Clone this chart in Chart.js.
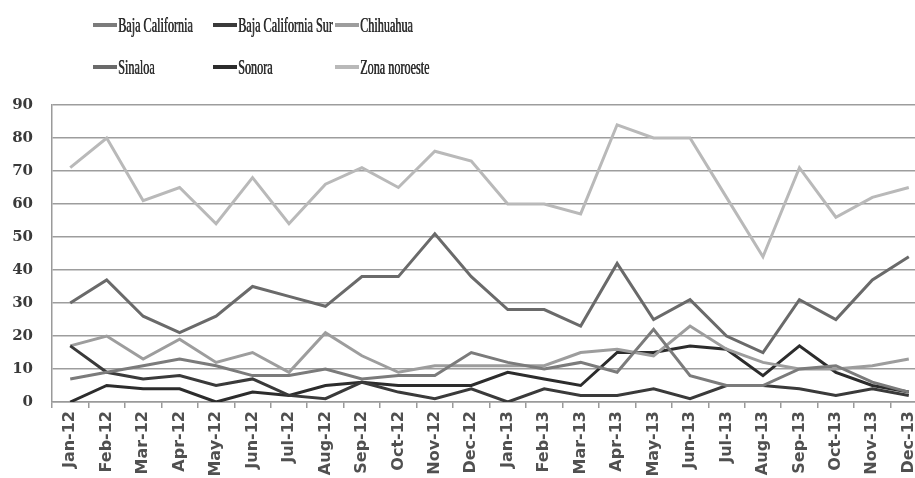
<!DOCTYPE html>
<html>
<head>
<meta charset="utf-8">
<script src="https://cdn.jsdelivr.net/npm/chart.js@4.4.0/dist/chart.umd.min.js"></script>
<style>
html,body{margin:0;padding:0;background:#fff;overflow:hidden;width:915px;height:478px}
#wrap{position:absolute;left:0;top:0;width:931px;height:478px}
</style>
</head>
<body>
<div id="wrap"><canvas id="c" width="931" height="478"></canvas></div>
<script>
const months = ["Jan-12","Feb-12","Mar-12","Apr-12","May-12","Jun-12","Jul-12","Aug-12","Sep-12","Oct-12","Nov-12","Dec-12",
                "Jan-13","Feb-13","Mar-13","Apr-13","May-13","Jun-13","Jul-13","Aug-13","Sep-13","Oct-13","Nov-13","Dec-13"];
const seriesNames = ["Baja California","Baja California Sur","Chihuahua","Sinaloa","Sonora","Zona noroeste"];
const bajaCalifornia    = [7, 9, 11, 13, 11, 8, 8, 10, 7, 8, 8, 15, 12, 10, 12, 9, 22, 8, 5, 5, 10, 11, 6, 3];
const bajaCaliforniaSur = [17, 9, 7, 8, 5, 7, 2, 1, 6, 3, 1, 4, 0, 4, 2, 2, 4, 1, 5, 5, 4, 2, 4, 2];
const chihuahua         = [17, 20, 13, 19, 12, 15, 9, 21, 14, 9, 11, 11, 11, 11, 15, 16, 14, 23, 16, 12, 10, 10, 11, 13];
const sinaloa           = [30, 37, 26, 21, 26, 35, 32, 29, 38, 38, 51, 38, 28, 28, 23, 42, 25, 31, 20, 15, 31, 25, 37, 44];
const sonora            = [0, 5, 4, 4, 0, 3, 2, 5, 6, 5, 5, 5, 9, 7, 5, 15, 15, 17, 16, 8, 17, 9, 5, 3];
const zonaNoroeste      = [71, 80, 61, 65, 54, 68, 54, 66, 71, 65, 76, 73, 60, 60, 57, 84, 80, 80, 62, 44, 71, 56, 62, 65];
const yTicks = [0, 10, 20, 30, 40, 50, 60, 70, 80, 90];

const colors = ["#7b7b7b", "#3a3a3a", "#9d9d9d", "#6a6a6a", "#2c2c2c", "#b9b9b9"];
const values = [bajaCalifornia, bajaCaliforniaSur, chihuahua, sinaloa, sonora, zonaNoroeste];

const datasets = seriesNames.map((n, i) => ({
  label: n,
  data: values[i],
  borderColor: colors[i],
  backgroundColor: colors[i],
  borderWidth: 3,
  pointRadius: 0,
  tension: 0,
  fill: false
}));

const legendPlugin = {
  id: 'gridLegend',
  afterDraw(chart) {
    const ctx = chart.ctx;
    const cols = [93, 213, 335];
    const rows = [25, 67];
    ctx.save();
    seriesNames.forEach((n, i) => {
      const x = cols[i % 3], y = rows[Math.floor(i / 3)];
      ctx.strokeStyle = colors[i];
      ctx.lineWidth = 4;
      ctx.beginPath();
      ctx.moveTo(x, y);
      ctx.lineTo(x + 24, y);
      ctx.stroke();
      ctx.save();
      ctx.translate(x + 25, y);
      ctx.scale(0.58, 1);
      ctx.fillStyle = '#2e2e2e';
      ctx.font = '21px "Liberation Serif"';
      ctx.textBaseline = 'middle';
      ctx.textAlign = 'left';
      ctx.fillText(n, 0, 1);
      ctx.fillText(n, 0.7, 1);
      ctx.restore();
    });
    ctx.restore();
  }
};

new Chart(document.getElementById('c'), {
  type: 'line',
  data: { labels: months, datasets },
  plugins: [legendPlugin],
  options: {
    responsive: false,
    animation: false,
    layout: { padding: { top: 105, right: 0, left: 0, bottom: 0 } },
    plugins: { legend: { display: false }, tooltip: { enabled: false }, title: { display: false } },
    scales: {
      x: {
        type: 'category',
        offset: true,
        grid: { display: true, drawOnChartArea: false, drawTicks: true, tickLength: 6, offset: true, color: '#9a9a9a', lineWidth: 1.5 },
        border: { display: true, color: '#9a9a9a', width: 1.5 },
        ticks: {
          autoSkip: false, minRotation: 90, maxRotation: 90, padding: 3,
          color: '#505050', font: { family: '"DejaVu Sans"', size: 16, weight: 'bold' }
        },
        afterFit(scale) { scale.height = 76; }
      },
      y: {
        min: 0, max: 90,
        afterBuildTicks(scale) { scale.ticks = yTicks.map(v => ({ value: v })); },
        grid: { color: '#9d9d9d', lineWidth: 1.5, drawTicks: false },
        border: { display: true, color: '#9a9a9a', width: 1.5 },
        ticks: {
          padding: 19, color: '#3a3a3a',
          font: { family: '"DejaVu Serif"', size: 15, weight: 'bold' }
        },
        afterFit(scale) { scale.width = 52; }
      }
    }
  }
});
</script>
</body>
</html>
